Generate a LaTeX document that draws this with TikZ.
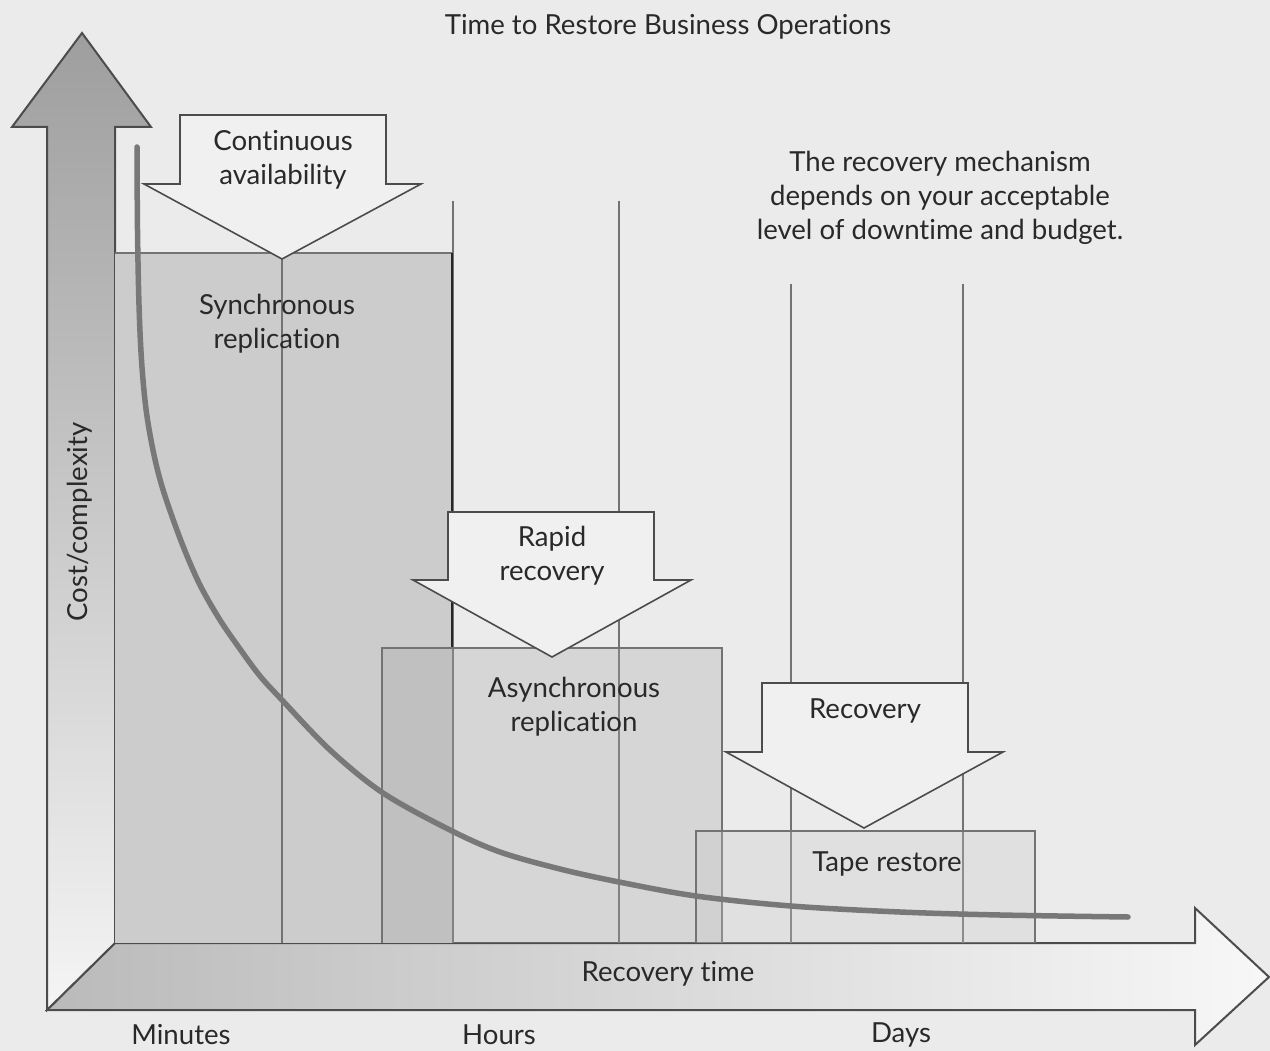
\documentclass[tikz,border=0pt]{standalone}
\usepackage{fontspec}
\setmainfont{Lato}[Ligatures=NoCommon]
\usetikzlibrary{shadings}
\definecolor{bg}{gray}{0.922}
\definecolor{ink}{gray}{0.16}
\definecolor{edge}{gray}{0.30}
\definecolor{guide}{gray}{0.45}
\definecolor{syncfill}{gray}{0.80}
\definecolor{blockfill}{gray}{0.94}
\definecolor{curvecol}{gray}{0.47}
\tikzset{
  lbl/.style={text=ink, font=\fontsize{27.6}{34}\selectfont, align=center, inner sep=0pt},
  guideline/.style={draw=guide, line width=2pt},
  blockarrow/.style={fill=blockfill, draw=edge, line width=1.6pt, line join=miter},
  axisedge/.style={draw=edge, line width=2pt, line join=miter},
  bar/.style={draw=guide, line width=1.8pt},
}
\begin{document}
\begin{tikzpicture}[x=1pt, y=-1pt]
\useasboundingbox (0,0) rectangle (1270,1051);
\fill[bg] (0,0) rectangle (1270,1051);

% horizontal axis arrow (recovery time)
\shade[left color=black!27, right color=white!97!black]
  (47,1010) -- (115,943) -- (1195,943) -- (1195,908) -- (1269,977)
  -- (1195,1045) -- (1195,1010) -- cycle;
\draw[axisedge] (47,1010) -- (115,943) -- (1195,943) -- (1195,908) -- (1269,977)
  -- (1195,1045) -- (1195,1010) -- cycle;

% vertical axis arrow (cost/complexity)
\shade[top color=black!38, bottom color=white!96!black]
  (47,1010) -- (47,127) -- (12,127) -- (82,33) -- (151,127) -- (115,127)
  -- (115,943) -- cycle;
\draw[axisedge] (47,1010) -- (47,127) -- (12,127) -- (82,33) -- (151,127)
  -- (115,127) -- (115,943) -- cycle;

% guide lines
\draw[guideline] (453,201) -- (453,943);
\draw[guideline] (619,201) -- (619,943);
\draw[guideline] (791,284) -- (791,943);
\draw[guideline] (963,284) -- (963,943);

% synchronous replication bar
\fill[syncfill] (115,253) rectangle (452,943);
\draw[bar] (115,253) -- (452,253);
\draw[bar] (282,253) -- (282,943);
\draw[draw=black!85, line width=2.6pt] (452,253) -- (452,648);

% asynchronous replication bar
\fill[black!35, fill opacity=0.3] (382,648) rectangle (722,943);
\draw[bar] (382,943) -- (382,648) -- (722,648) -- (722,943);

% tape restore bar
\fill[black!22, fill opacity=0.3] (696,831) rectangle (1035,943);
\draw[bar] (696,943) -- (696,831) -- (1035,831) -- (1035,943);

% cost curve
\draw[curvecol, line width=5.5pt, line cap=round] plot[smooth, tension=0.55] coordinates {
  (137,147) (137.5,230) (139,305) (141.5,360) (145.5,405) (151,440) (158,472)
  (167,502) (183,546) (200,585) (220,620) (240,649) (260,676) (282,700)
  (330,750) (383,793) (450,830) (500,852) (560,869) (619,882) (696,896)
  (791,906) (900,912) (1000,915) (1128,917)};

% block arrows
\draw[blockarrow] (180,115) -- (386,115) -- (386,184) -- (421,184) -- (282,259)
  -- (144,184) -- (180,184) -- cycle;
\draw[blockarrow] (448,512) -- (654,512) -- (654,580) -- (691,580) -- (552,657)
  -- (413,580) -- (448,580) -- cycle;
\draw[blockarrow] (762,683) -- (968,683) -- (968,752) -- (1003,752) -- (864,828)
  -- (726,752) -- (762,752) -- cycle;

% labels
\node[lbl] (title) at (668,27) {Time to Restore Business Operations};
\node[lbl] (cont) at (283,160) {Continuous\\availability};
\node[lbl] (sync) at (277,324) {Synchronous\\replication};
\node[lbl] (rapid) at (552,556) {Rapid\\recovery};
\node[lbl] (async) at (574,707) {Asynchronous\\replication};
\node[lbl] (recov) at (865,711) {Recovery};
\node[lbl] (tape) at (887,864) {Tape restore};
\node[lbl] (note) at (940,198) {The recovery mechanism\\depends on your acceptable\\level of downtime and budget.};
\node[lbl, rotate=90] (cost) at (80,522) {Cost/complexity};
\node[lbl] (rtime) at (668,974) {Recovery time};
\node[lbl] (minutes) at (181,1035) {Minutes};
\node[lbl] (hours) at (499,1035) {Hours};
\node[lbl] (days) at (901,1035) {Days};
\end{tikzpicture}
\end{document}
